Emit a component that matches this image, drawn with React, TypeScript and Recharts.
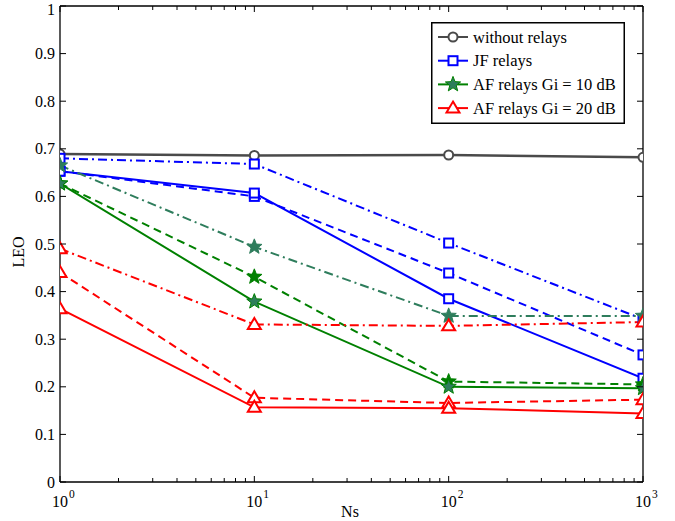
import React from 'react';
import { LineChart, Line, XAxis, YAxis, Legend, ReferenceLine } from 'recharts';

// ---------- data ----------
const nsValues = [1, 10, 100, 1000];
const withoutRelays = [0.689, 0.686, 0.687, 0.682];
const jfSolid = [0.653, 0.607, 0.385, 0.218];
const jfDashed = [0.653, 0.6, 0.439, 0.267];
const jfDashDot = [0.68, 0.668, 0.502, 0.342];
const af10Solid = [0.627, 0.379, 0.2, 0.197];
const af10Dashed = [0.627, 0.431, 0.211, 0.205];
const af10DashDot = [0.665, 0.494, 0.349, 0.349];
const af20Solid = [0.364, 0.157, 0.155, 0.144];
const af20Dashed = [0.44, 0.177, 0.166, 0.173];
const af20DashDot = [0.49, 0.331, 0.328, 0.336];

const xTicks = [1, 2, 3, 4, 5, 6, 7, 8, 9, 10, 20, 30, 40, 50, 60, 70, 80, 90, 100, 200, 300, 400, 500, 600, 700, 800, 900, 1000];
const yTicks = [0, 0.1, 0.2, 0.3, 0.4, 0.5, 0.6, 0.7, 0.8, 0.9, 1];
const yTickLabels = ['0', '0.1', '0.2', '0.3', '0.4', '0.5', '0.6', '0.7', '0.8', '0.9', '1'];

const legendLabels = ['without relays', 'JF relays', 'AF relays Gi = 10 dB', 'AF relays Gi = 20 dB'];

// ---------- layout / style ----------
const W = 675;
const H = 521;
const PLOT_LEFT = 60;
const PLOT_TOP = 6;
const PLOT_RIGHT = 643;
const PLOT_BOTTOM = 482;
const FONT = '"Liberation Serif", "DejaVu Serif", serif';

const GRAY = '#4a4a4a';
const BLUE = '#0000ff';
const GREEN = '#008000';
const TEAL = '#2e7d5c';
const RED = '#ff0000';

const DASH = '8 5';
const DASHDOT = '9 4 2 4';

const rows = nsValues.map((ns, i) => ({
  ns,
  s0: withoutRelays[i],
  jfS: jfSolid[i],
  jfD: jfDashed[i],
  jfDD: jfDashDot[i],
  a10S: af10Solid[i],
  a10D: af10Dashed[i],
  a10DD: af10DashDot[i],
  a20S: af20Solid[i],
  a20D: af20Dashed[i],
  a20DD: af20DashDot[i],
}));

type MarkerKind = 'circle' | 'square' | 'star' | 'triangle';

function starPath(cx: number, cy: number, ro: number, ri: number) {
  let d = '';
  for (let k = 0; k < 10; k++) {
    const r = k % 2 === 0 ? ro : ri;
    const a = -Math.PI / 2 + (k * Math.PI) / 5;
    const px = cx + r * Math.cos(a);
    const py = cy + r * Math.sin(a);
    d += (k === 0 ? 'M' : 'L') + px.toFixed(2) + ',' + py.toFixed(2);
  }
  return d + 'Z';
}

function Marker({ kind, cx, cy, color, fill }: { kind: MarkerKind; cx: number; cy: number; color: string; fill?: string }) {
  if (kind === 'circle') return <circle cx={cx} cy={cy} r={4.5} fill="white" stroke={color} strokeWidth={2} />;
  if (kind === 'square') return <rect x={cx - 4.5} y={cy - 4.5} width={9} height={9} fill="white" stroke={color} strokeWidth={2} />;
  if (kind === 'star') return <path d={starPath(cx, cy, 8, 3.4)} fill={fill || color} stroke={color} strokeWidth={1} />;
  return <path d={`M${cx},${cy - 6.5}L${cx + 6.5},${cy + 4.5}L${cx - 6.5},${cy + 4.5}Z`} fill="white" stroke={color} strokeWidth={2} />;
}

const series: { key: string; color: string; dash?: string; marker: MarkerKind; fill?: string }[] = [
  { key: 's0', color: GRAY, marker: 'circle' },
  { key: 'jfDD', color: BLUE, dash: DASHDOT, marker: 'square' },
  { key: 'jfD', color: BLUE, dash: DASH, marker: 'square' },
  { key: 'jfS', color: BLUE, marker: 'square' },
  { key: 'a10DD', color: TEAL, dash: DASHDOT, marker: 'star' },
  { key: 'a10D', color: GREEN, dash: DASH, marker: 'star' },
  { key: 'a10S', color: GREEN, marker: 'star', fill: TEAL },
  { key: 'a20DD', color: RED, dash: DASHDOT, marker: 'triangle' },
  { key: 'a20D', color: RED, dash: DASH, marker: 'triangle' },
  { key: 'a20S', color: RED, marker: 'triangle' },
];

const XTick = (props: any) => {
  const { x, payload } = props;
  const v = payload.value as number;
  const exp = Math.round(Math.log10(v));
  const major = Math.abs(Math.pow(10, exp) - v) < 1e-9;
  const len = major ? 6 : 4;
  return (
    <g>
      <line x1={x} y1={PLOT_BOTTOM} x2={x} y2={PLOT_BOTTOM - len} stroke="#000" strokeWidth={1} />
      <line x1={x} y1={PLOT_TOP} x2={x} y2={PLOT_TOP + len} stroke="#000" strokeWidth={1} />
      {major && (
        <g fontFamily={FONT} fill="#000">
          <text x={x} y={PLOT_BOTTOM + 24.5} textAnchor="middle" fontSize={16}>10</text>
          <text x={x + 9} y={PLOT_BOTTOM + 16} textAnchor="start" fontSize={11.5}>{exp}</text>
        </g>
      )}
    </g>
  );
};

const YTick = (props: any) => {
  const { y, payload } = props;
  const v = payload.value as number;
  const idx = yTicks.findIndex((t) => Math.abs(t - v) < 1e-9);
  const label = idx >= 0 ? yTickLabels[idx] : String(v);
  const ty = Math.max(y + 5.5, 15);
  return (
    <g>
      <line x1={PLOT_LEFT} y1={y} x2={PLOT_LEFT + 6} y2={y} stroke="#000" strokeWidth={1} />
      <line x1={PLOT_RIGHT} y1={y} x2={PLOT_RIGHT - 6} y2={y} stroke="#000" strokeWidth={1} />
      <text x={PLOT_LEFT - 5} y={ty} textAnchor="end" fontFamily={FONT} fontSize={16} fill="#000">{label}</text>
    </g>
  );
};

const legendItems: { color: string; marker: MarkerKind; fill?: string }[] = [
  { color: GRAY, marker: 'circle' },
  { color: BLUE, marker: 'square' },
  { color: GREEN, marker: 'star', fill: TEAL },
  { color: RED, marker: 'triangle' },
];

const LegendBox = () => (
  <svg width={194} height={102} style={{ display: 'block' }}>
    <rect x={0.75} y={0.75} width={192.5} height={100.5} fill="white" stroke="#000" strokeWidth={1.5} />
    {legendItems.map((it, i) => {
      const cy = 15 + i * 23.7;
      return (
        <g key={i}>
          <line x1={7} y1={cy} x2={37} y2={cy} stroke={it.color} strokeWidth={2} />
          <Marker kind={it.marker} cx={22} cy={cy} color={it.color} fill={it.fill} />
          <text x={42} y={cy + 5.5} fontFamily={FONT} fontSize={16.5} fill="#000">{legendLabels[i]}</text>
        </g>
      );
    })}
  </svg>
);

export default function App() {
  return (
    <div style={{ position: 'absolute', left: 0, top: 0, width: W, height: H, background: 'white' }}>
      <LineChart
        width={W}
        height={H}
        data={rows}
        margin={{ top: PLOT_TOP, right: W - PLOT_RIGHT, left: 0, bottom: 0 }}
      >
        <XAxis
          dataKey="ns"
          type="number"
          scale="log"
          domain={[1, 1000]}
          ticks={xTicks}
          interval={0}
          allowDataOverflow
          height={H - PLOT_BOTTOM}
          tickLine={false}
          tickSize={0}
          tickMargin={0}
          axisLine={{ stroke: '#000', strokeWidth: 1.3 }}
          tick={<XTick />}
          label={{
            content: () => (
              <text x={350} y={517} textAnchor="middle" fontFamily={FONT} fontSize={16} fill="#000">Ns</text>
            ),
          }}
        />
        <YAxis
          type="number"
          domain={[0, 1]}
          ticks={yTicks}
          interval={0}
          allowDataOverflow
          width={PLOT_LEFT}
          tickLine={false}
          tickSize={0}
          tickMargin={0}
          axisLine={{ stroke: '#000', strokeWidth: 1.3 }}
          tick={<YTick />}
          label={{
            content: () => (
              <text x={24} y={252} transform="rotate(-90 24 252)" textAnchor="middle" fontFamily={FONT} fontSize={16} fill="#000">LEO</text>
            ),
          }}
        />
        <ReferenceLine y={1} stroke="#000" strokeWidth={1.3} ifOverflow="extendDomain" />
        <ReferenceLine x={1000} stroke="#000" strokeWidth={1.3} ifOverflow="extendDomain" />
        {series.map((s) => (
          <Line
            key={s.key}
            dataKey={s.key}
            type="linear"
            stroke={s.color}
            strokeWidth={s.key === 's0' ? 2.5 : 2}
            strokeDasharray={s.dash}
            isAnimationActive={false}
            dot={(p: any) => (
              <g key={`${s.key}-${p.index}`}>
                <Marker kind={s.marker} cx={p.cx} cy={p.cy} color={s.color} fill={s.fill} />
              </g>
            )}
            activeDot={false}
            legendType="none"
          />
        ))}
        <Legend
          layout="horizontal"
          verticalAlign="middle"
          align="center"
          content={() => <LegendBox />}
          wrapperStyle={{ position: 'absolute', left: 431, top: 22, width: 194, height: 102 }}
        />
      </LineChart>
    </div>
  );
}
